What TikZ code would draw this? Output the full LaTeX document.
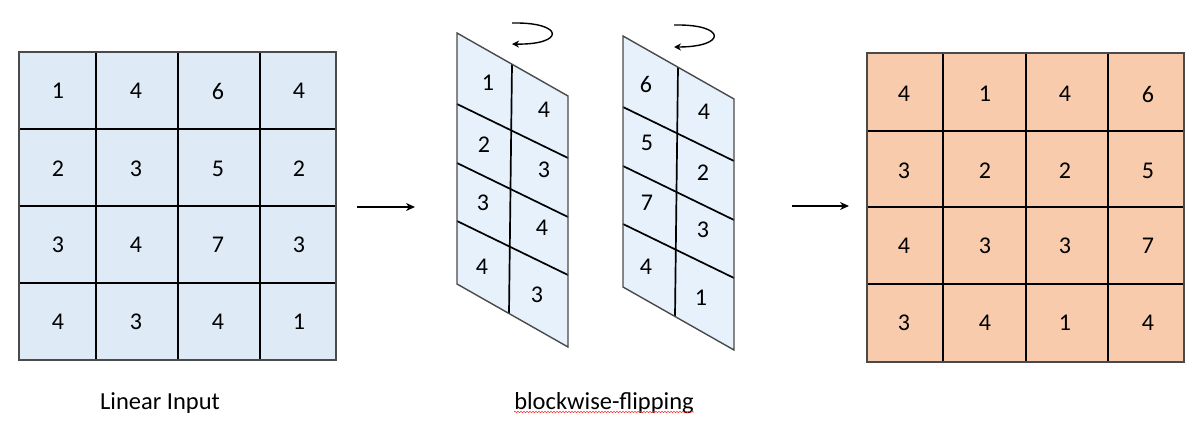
\documentclass[tikz,border=0pt]{standalone}
\usepackage{fontspec}
\setmainfont{Carlito}
\usetikzlibrary{arrows.meta,decorations.pathmorphing}

\definecolor{inblue}{HTML}{DEEAF6}
\definecolor{flipblue}{HTML}{E6F1FC}
\definecolor{outorange}{HTML}{F8CBAD}
\definecolor{edgegray}{HTML}{4A4A4A}

\begin{document}
\begin{tikzpicture}[x=1pt,y=-1pt,
        num/.style={font=\fontsize{24}{29}\selectfont, inner sep=0pt},
        caption/.style={font=\fontsize{24.5}{29}\selectfont, inner sep=0pt, anchor=base},
        gridline/.style={line width=1.7pt, black},
        border/.style={line width=1.4pt, edgegray},
        flow/.style={line width=1.5pt, -{Stealth[length=9pt,width=8pt]}},
        turn/.style={line width=1.4pt, -{Stealth[length=7pt,width=7pt]}}]
        \useasboundingbox (0,0) rectangle (1196,425);

        % linear input
        \fill[inblue] (19,52) rectangle (336,360);
        \foreach \x in {96,178,260} \draw[gridline] (\x,52)--(\x,360);
        \foreach \y in {129,206,283} \draw[gridline] (19,\y)--(336,\y);
        \draw[border] (19,52) rectangle (336,360);
        \foreach \v [count=\k from 0] in {1,4,6,4, 2,3,5,2, 3,4,7,3, 4,3,4,1} {
            \pgfmathsetmacro\xx{{58,136,218,299}[mod(\k,4)]}
            \pgfmathsetmacro\yy{{91,169,245,322}[div(\k,4)]}
            \node[num] (in-\k) at (\xx,\yy) {\v};
        }
        \node[caption] (in-label) at (160,409) {Linear Input};

        % flipped blocks
        \foreach \s/\dy in {0/0, 166/3} {
            \begin{scope}[shift={(\s,\dy)}]
                \fill[flipblue] (457,33)--(568,96)--(568,347)--(457,284)--cycle;
                \draw[gridline] (512,64)--(509,313);
                \foreach \a/\b in {104/158, 163/217, 221/275}
                    \draw[gridline] (457,\a)--(568,\b);
                \draw[border] (457,33)--(568,96)--(568,347)--(457,284)--cycle;
            \end{scope}
        }
        \draw[turn] (512,23) .. controls (565,22) and (565,45) .. (512,44);
        \draw[turn] (674,25) .. controls (727,24) and (727,47) .. (674,47);
        \foreach \x/\y/\v [count=\k] in {488/83/1, 484/145/2, 483/203/3, 482/267/4,
                544/110/4, 544/170/3, 542/228/4, 537/295/3,
                646/84/6, 647/143/5, 647/203/7, 646/267/4,
                704/112/4, 703/173/2, 703/230/3, 701/298/1}
            \node[num] (flip-\k) at (\x,\y) {\v};
        \node[caption] (flip-label) at (604,409) {blockwise-flipping};
        \draw[red!80, line width=0.6pt, decorate, decoration={snake, amplitude=0.8pt, segment length=3pt}]
            ([yshift=-3pt]flip-label.base west)--([yshift=-3pt]flip-label.base east);

        % output
        \fill[outorange] (867,53) rectangle (1184,362);
        \foreach \x in {943,1026,1108} \draw[gridline] (\x,53)--(\x,362);
        \foreach \y in {131,207,284} \draw[gridline] (867,\y)--(1184,\y);
        \draw[border] (867,53) rectangle (1184,362);
        \foreach \v [count=\k from 0] in {4,1,4,6, 3,2,2,5, 4,3,3,7, 3,4,1,4} {
            \pgfmathsetmacro\xx{{904,985,1065,1148}[mod(\k,4)]}
            \pgfmathsetmacro\yy{{94,171,246,323}[div(\k,4)]}
            \node[num] (out-\k) at (\xx,\yy) {\v};
        }

        % arrows
        \coordinate (a-start) at (357,207);
        \coordinate (a-end) at (415,207);
        \coordinate (b-start) at (792,206);
        \coordinate (b-end) at (849,206);
        \draw[flow] (a-start)--(a-end);
        \draw[flow] (b-start)--(b-end);
\end{tikzpicture}
\end{document}
